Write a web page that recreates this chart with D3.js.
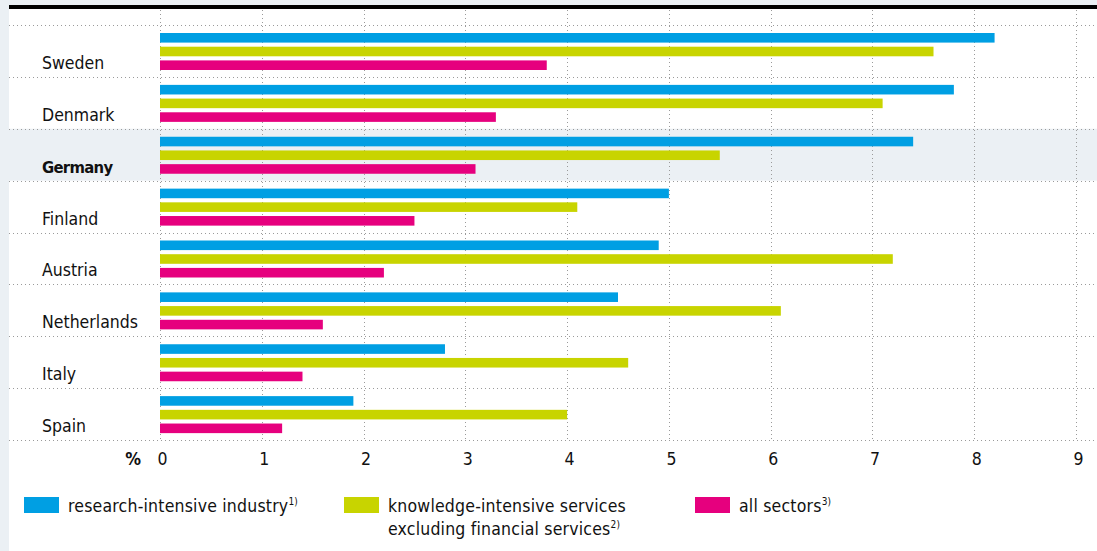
<!DOCTYPE html>
<html>
<head>
<meta charset="utf-8">
<script src="https://cdn.jsdelivr.net/npm/d3@7"></script>
<style>
  body { margin: 0; background: #ebf0f4; }
  svg { display: block; font-family: "DejaVu Sans Condensed", "DejaVu Sans", sans-serif; }
</style>
</head>
<body>
<div id="chart"></div>
<script>
const countries = ["Sweden", "Denmark", "Germany", "Finland", "Austria", "Netherlands", "Italy", "Spain"];
const research = [8.2, 7.8, 7.4, 5.0, 4.9, 4.5, 2.8, 1.9];
const knowledge = [7.6, 7.1, 5.5, 4.1, 7.2, 6.1, 4.6, 4.0];
const allSectors = [3.8, 3.3, 3.1, 2.5, 2.2, 1.6, 1.4, 1.2];
const xTicks = [0, 1, 2, 3, 4, 5, 6, 7, 8, 9];
const highlight = "Germany";

const seriesNames = ["research", "knowledge", "all"];
const colors = { research: "#009fe3", knowledge: "#c8d400", all: "#e6007e" };

const width = 1097, height = 551;
const fontSize = 17.5;
const svg = d3.select("#chart").append("svg").attr("width", width).attr("height", height);

// white panel
svg.append("rect").attr("x", 9).attr("y", 5).attr("width", width - 9).attr("height", height - 5).attr("fill", "#fff");
// top rule
svg.append("rect").attr("x", 9).attr("y", 5).attr("width", width - 9).attr("height", 4).attr("fill", "#000");

const x = d3.scaleLinear().domain([0, 9]).range([160, 1076]);
const y = d3.scaleBand().domain(countries).range([25, 440]).padding(0);
const inner = d3.scaleBand().domain(seriesNames).range([8, 45]).paddingInner(0.3);

// highlighted row
svg.append("rect")
  .attr("x", 9).attr("y", y(highlight))
  .attr("width", width - 9).attr("height", y.bandwidth())
  .attr("fill", "#ebf0f4");

// horizontal dotted lines
const hLines = [25].concat(countries.map(c => y(c) + y.bandwidth()));
svg.selectAll(".hgrid").data(hLines).enter().append("line")
  .attr("x1", 9).attr("x2", width)
  .attr("y1", d => Math.round(d) + 0.5).attr("y2", d => Math.round(d) + 0.5)
  .attr("stroke", "#9a9a9a").attr("stroke-width", 1).attr("stroke-dasharray", "1,3");

// vertical dotted lines
svg.selectAll(".vgrid").data(xTicks).enter().append("line")
  .attr("x1", d => Math.round(x(d)) + 0.5).attr("x2", d => Math.round(x(d)) + 0.5)
  .attr("y1", 10).attr("y2", 440)
  .attr("stroke", "#9a9a9a").attr("stroke-width", 1).attr("stroke-dasharray", "1,3");

// bars
const rows = countries.map((c, i) => ({ country: c, research: research[i], knowledge: knowledge[i], all: allSectors[i] }));
const g = svg.selectAll(".row").data(rows).enter().append("g")
  .attr("transform", d => `translate(0,${y(d.country)})`);

g.selectAll("rect").data(d => seriesNames.map(k => ({ key: k, value: d[k] }))).enter().append("rect")
  .attr("x", x(0))
  .attr("y", d => inner(d.key))
  .attr("width", d => x(d.value) - x(0))
  .attr("height", inner.bandwidth())
  .attr("fill", d => colors[d.key]);

// country labels
g.append("text")
  .attr("x", 42)
  .attr("y", y.bandwidth() - 8)
  .attr("font-size", d => d.country === highlight ? 16.5 : fontSize)
  .attr("font-weight", d => d.country === highlight ? "bold" : "normal")
  .attr("letter-spacing", d => d.country === highlight ? -0.7 : 0)
  .attr("fill", "#111")
  .text(d => d.country);

// x axis
const axis = svg.append("g").attr("transform", "translate(0,465)")
  .call(d3.axisBottom(x).tickValues(xTicks).tickSize(0).tickPadding(0));
axis.select(".domain").remove();
axis.selectAll("text").attr("font-size", fontSize).attr("font-family", "DejaVu Sans Condensed, DejaVu Sans, sans-serif")
  .attr("fill", "#111").attr("dy", 0).attr("dx", 2);
svg.append("text").attr("x", 141).attr("y", 465).attr("text-anchor", "end")
  .attr("font-size", fontSize).attr("font-weight", "bold").attr("fill", "#111").text("%");

// legend
const legend = [
  { key: "research", x: 24, lines: ["research-intensive industry"], sup: "1)" },
  { key: "knowledge", x: 344, lines: ["knowledge-intensive services", "excluding financial services"], sup: "2)" },
  { key: "all", x: 695, lines: ["all sectors"], sup: "3)" }
];
const lg = svg.selectAll(".legend").data(legend).enter().append("g")
  .attr("transform", d => `translate(${d.x},497)`);
lg.append("rect").attr("width", 35).attr("height", 16).attr("fill", d => colors[d.key]);
lg.each(function (d) {
  const t = d3.select(this).append("text").attr("x", 44).attr("y", 15).attr("font-size", fontSize)
    .attr("letter-spacing", 0.2).attr("fill", "#111");
  d.lines.forEach((line, i) => {
    t.append("tspan").attr("x", 44).attr("dy", i === 0 ? 0 : 23).text(line);
    if (i === d.lines.length - 1) {
      t.append("tspan").attr("font-size", 10).attr("dy", -7).text(d.sup);
    }
  });
});
</script>
</body>
</html>
